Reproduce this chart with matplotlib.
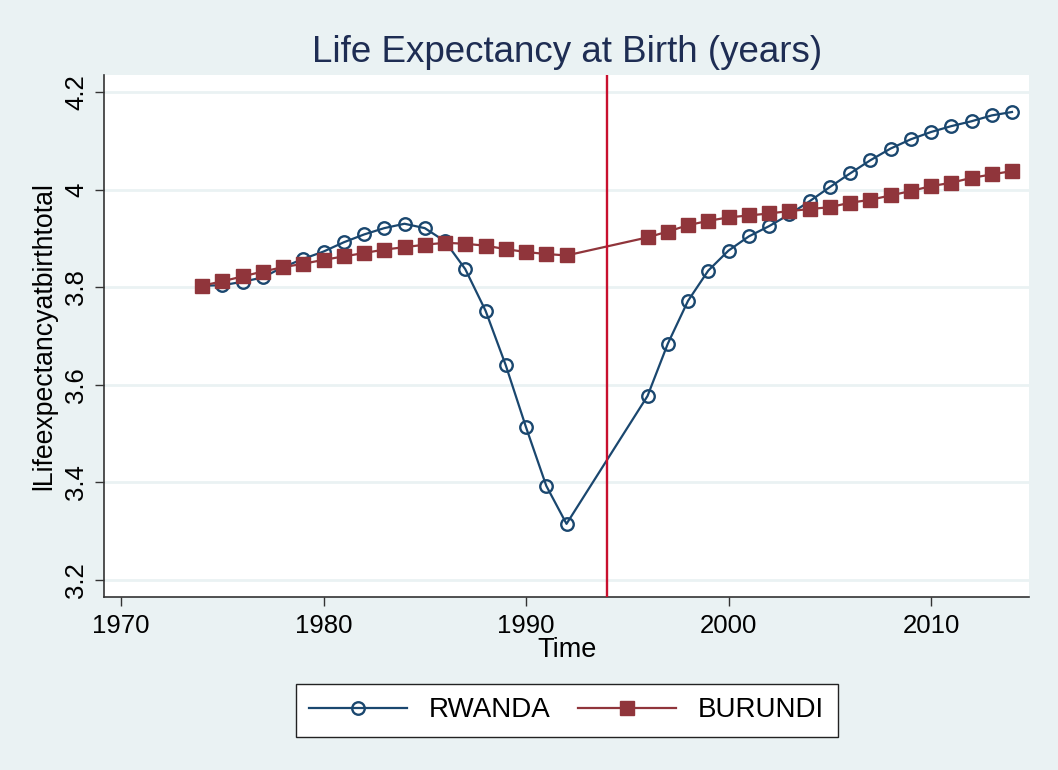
import matplotlib.pyplot as plt
import numpy as np

# years with data (gap 1993-1995)
years = list(range(1974, 1993)) + list(range(1996, 2015))

rwanda = [3.803, 3.804, 3.811, 3.820, 3.841, 3.858, 3.873, 3.892, 3.908, 3.921,
          3.930, 3.921, 3.894, 3.837, 3.752, 3.640, 3.513, 3.393, 3.315,
          3.577, 3.684, 3.772, 3.834, 3.875, 3.904, 3.925, 3.949, 3.976, 4.005,
          4.033, 4.060, 4.084, 4.103, 4.118, 4.130, 4.140, 4.152, 4.159]

burundi = [3.803, 3.812, 3.822, 3.832, 3.841, 3.848, 3.856, 3.863, 3.870, 3.877,
           3.882, 3.887, 3.891, 3.889, 3.885, 3.878, 3.872, 3.868, 3.865,
           3.902, 3.914, 3.927, 3.936, 3.943, 3.947, 3.951, 3.956, 3.960, 3.964,
           3.973, 3.979, 3.988, 3.997, 4.007, 4.014, 4.024, 4.031, 4.038]

event_year = 1994
xticks = [1970, 1980, 1990, 2000, 2010]
yticks = [3.2, 3.4, 3.6, 3.8, 4.0, 4.2]
ytick_labels = ["3.2", "3.4", "3.6", "3.8", "4", "4.2"]

bg = "#EAF2F3"
navy = "#1A476F"
maroon = "#90353B"

plt.rcParams['font.family'] = ['Liberation Sans', 'DejaVu Sans']

fig = plt.figure(figsize=(10.58, 7.70), dpi=100, facecolor=bg)
ax = fig.add_axes([0.0986, 0.2251, 0.874, 0.6775])
ax.set_facecolor("white")

ax.plot(years, rwanda, color=navy, lw=1.6, marker="o", ms=9, mfc="none",
        mec=navy, mew=1.7, label="RWANDA", zorder=3)
ax.plot(years, burundi, color=maroon, lw=1.6, marker="s", ms=10.5, mfc=maroon,
        mec=maroon, label="BURUNDI", zorder=3)
ax.axvline(event_year, color="#C8102E", lw=1.7, zorder=4)

ax.set_xlim(1969.175, 2014.84)
ax.set_ylim(3.1658, 4.2348)
ax.set_xticks(xticks)
ax.set_yticks(yticks)
ax.set_yticklabels(ytick_labels, rotation=90, va="center")
ax.tick_params(labelsize=18.5, length=6.5, width=1, color="#333333")
ax.tick_params(axis="x", pad=6)
ax.tick_params(axis="y", pad=5)
ax.grid(axis="y", color=bg, lw=2)
ax.set_axisbelow(True)

for s in ["top", "right"]:
    ax.spines[s].set_visible(False)
for s in ["left", "bottom"]:
    ax.spines[s].set_color("#333333")
    ax.spines[s].set_linewidth(1.2)

ax.set_title("Life Expectancy at Birth (years)", fontsize=26.5, color="#1E2D53", pad=9)
ax.set_xlabel("Time", fontsize=19.5, labelpad=-1)
ax.set_ylabel("lLifeexpectancyatbirthtotal", fontsize=19.2, labelpad=5)

leg = ax.legend(loc="upper center", bbox_to_anchor=(0.5, -0.14), ncol=2,
                fontsize=20, frameon=True, fancybox=False, edgecolor="#222222",
                facecolor="white", framealpha=1,
                handlelength=3.5, handletextpad=0.8, columnspacing=1.0,
                borderpad=0.5)
leg.get_frame().set_linewidth(1)

fig.savefig("out.png", dpi=100, facecolor=bg)
